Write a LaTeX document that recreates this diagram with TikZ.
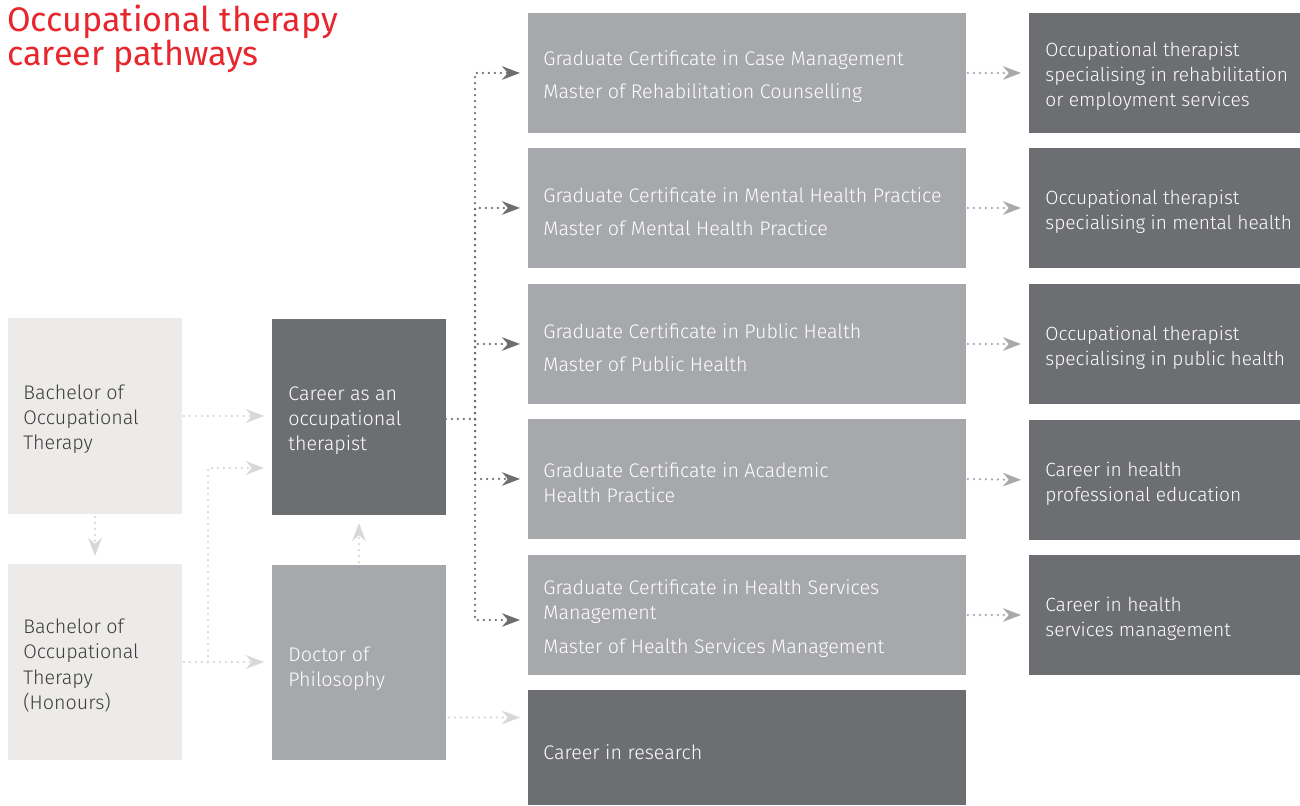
\documentclass[tikz,border=0pt]{standalone}
\usepackage{fontspec}
\setmainfont{Fira Sans}[UprightFont=* Light]
\newfontfamily\titlefont{Fira Sans}
\usetikzlibrary{arrows.meta}

\definecolor{otred}{HTML}{E8262D}
\definecolor{otpale}{HTML}{ECEBE9}
\definecolor{otmid}{HTML}{A7A8AC}
\definecolor{otdark}{HTML}{6D6E71}
\definecolor{otpalearrow}{HTML}{DAD8D6}
\definecolor{ottext}{HTML}{3C3C3C}

\begin{document}
\begin{tikzpicture}[x=0.02cm,y=-0.02cm]
  \tikzstyle{cell} = [anchor=north west, inner sep=0pt, outer sep=0pt]
  \tikzstyle{txt} = [anchor=west, inner sep=0pt, align=left, yshift=-0.07cm,
    font=\fontsize{11.2pt}{14.3pt}\selectfont]
  \tikzstyle{txtr} = [txt, font=\fontsize{10.9pt}{14.3pt}\selectfont]
  \tikzstyle{flow} = [line width=0.05cm, line cap=round,
    dash pattern=on 0pt off 0.12cm, -{Stealth[length=0.36cm, width=0.27cm]},
    shorten >=0.16cm]
  \useasboundingbox[fill=white] (0,0) rectangle (1300,805);

  % title
  \node[anchor=north west, inner sep=0pt, align=left, text=otred,
    font=\titlefont\fontsize{19.4pt}{18.9pt}\selectfont] (title) at (7,5)
    {Occupational therapy\\career pathways};

  % left column
  \node[cell, fill=otpale, minimum width=3.48cm, minimum height=3.92cm] (bach) at (8,318) {};
  \node[txt, text=ottext] (bacht) at ([xshift=0.3cm]bach.west) {Bachelor of\\Occupational\\Therapy};
  \node[cell, fill=otpale, minimum width=3.48cm, minimum height=3.92cm] (hons) at (8,564) {};
  \node[txt, text=ottext] (honst) at ([xshift=0.3cm]hons.west) {Bachelor of\\Occupational\\Therapy\\(Honours)};

  % second column
  \node[cell, fill=otdark, minimum width=3.48cm, minimum height=3.92cm] (ot) at (272,319) {};
  \node[txt, text=white] (ott) at ([xshift=0.32cm]ot.west) {Career as an\\occupational\\therapist};
  \node[cell, fill=otmid, minimum width=3.48cm, minimum height=3.9cm] (phd) at (272,565) {};
  \node[txt, text=white] (phdt) at ([xshift=0.32cm, yshift=-0.06cm]phd.west) {Doctor of\\Philosophy};

  % study options
  \node[cell, fill=otmid, minimum width=8.76cm, minimum height=2.4cm] (m1) at (528,13) {};
  \node[txt, text=white] (m1t) at ([xshift=0.3cm]m1.west) {Graduate Certificate in Case Management\\[0.16cm]Master of Rehabilitation Counselling};
  \node[cell, fill=otmid, minimum width=8.76cm, minimum height=2.4cm] (m2) at (528,148) {};
  \node[txt, text=white] (m2t) at ([xshift=0.3cm]m2.west) {Graduate Certificate in Mental Health Practice\\[0.16cm]Master of Mental Health Practice};
  \node[cell, fill=otmid, minimum width=8.76cm, minimum height=2.4cm] (m3) at (528,284) {};
  \node[txt, text=white] (m3t) at ([xshift=0.3cm]m3.west) {Graduate Certificate in Public Health\\[0.16cm]Master of Public Health};
  \node[cell, fill=otmid, minimum width=8.76cm, minimum height=2.4cm] (m4) at (528,419) {};
  \node[txt, text=white] (m4t) at ([xshift=0.3cm]m4.west) {Graduate Certificate in Academic\\Health Practice};
  \node[cell, fill=otmid, minimum width=8.76cm, minimum height=2.4cm] (m5) at (528,555) {};
  \node[txt, text=white] (m5t) at ([xshift=0.3cm]m5.west) {Graduate Certificate in Health Services\\Management\\[0.16cm]Master of Health Services Management};
  \node[cell, fill=otdark, minimum width=8.76cm, minimum height=2.3cm] (res) at (528,690) {};
  \node[txt, text=white] (rest) at ([xshift=0.3cm, yshift=-0.03cm]res.west) {Career in research};

  % careers
  \node[cell, fill=otdark, minimum width=5.42cm, minimum height=2.4cm] (r1) at (1029,13) {};
  \node[txtr, text=white] (r1t) at ([xshift=0.32cm]r1.west) {Occupational therapist\\specialising in rehabilitation\\or employment services};
  \node[cell, fill=otdark, minimum width=5.42cm, minimum height=2.4cm] (r2) at (1029,148) {};
  \node[txtr, text=white] (r2t) at ([xshift=0.32cm]r2.west) {Occupational therapist\\specialising in mental health};
  \node[cell, fill=otdark, minimum width=5.42cm, minimum height=2.4cm] (r3) at (1029,284) {};
  \node[txtr, text=white] (r3t) at ([xshift=0.32cm]r3.west) {Occupational therapist\\specialising in public health};
  \node[cell, fill=otdark, minimum width=5.42cm, minimum height=2.4cm] (r4) at (1029,420) {};
  \node[txtr, text=white] (r4t) at ([xshift=0.32cm]r4.west) {Career in health\\professional education};
  \node[cell, fill=otdark, minimum width=5.42cm, minimum height=2.4cm] (r5) at (1029,555) {};
  \node[txtr, text=white] (r5t) at ([xshift=0.32cm]r5.west) {Career in health\\services management};

  % pale arrows
  \coordinate (split) at (208,662);
  \draw[flow, otpalearrow, shorten <=0.04cm] (bach.east) -- (bach.east -| ot.west);
  \draw[flow, otpalearrow, shorten <=0.04cm] (hons.east) -- (hons.east -| phd.west);
  \draw[flow, otpalearrow] (split) |- ([yshift=-1.02cm]ot.west);
  \draw[flow, otpalearrow, shorten <=0.06cm] (bach.south) -- (hons.north);
  \draw[flow, otpalearrow, shorten <=0.06cm] (phd.north) -- (ot.south);
  \draw[flow, otpalearrow, shorten <=0.06cm] ([yshift=-1.1cm]phd.east) -- ([yshift=-1.1cm]phd.east -| res.west);

  % dark arrows
  \coordinate (trunk) at (475,419);
  \draw[otdark, line width=0.05cm, line cap=round, dash pattern=on 0pt off 0.12cm] (ot.east |- trunk) -- (trunk);
  \foreach \m in {m1,m2,m3,m4} {
    \draw[flow, otdark] (trunk) |- (\m.west);
  }
  \draw[flow, otdark] (trunk) |- ([yshift=-0.1cm]m5.west);

  % grey arrows
  \foreach \i in {1,...,5} {
    \draw[flow, otmid, shorten <=0.04cm] (m\i.east) -- (r\i.west);
  }
\end{tikzpicture}
\end{document}
